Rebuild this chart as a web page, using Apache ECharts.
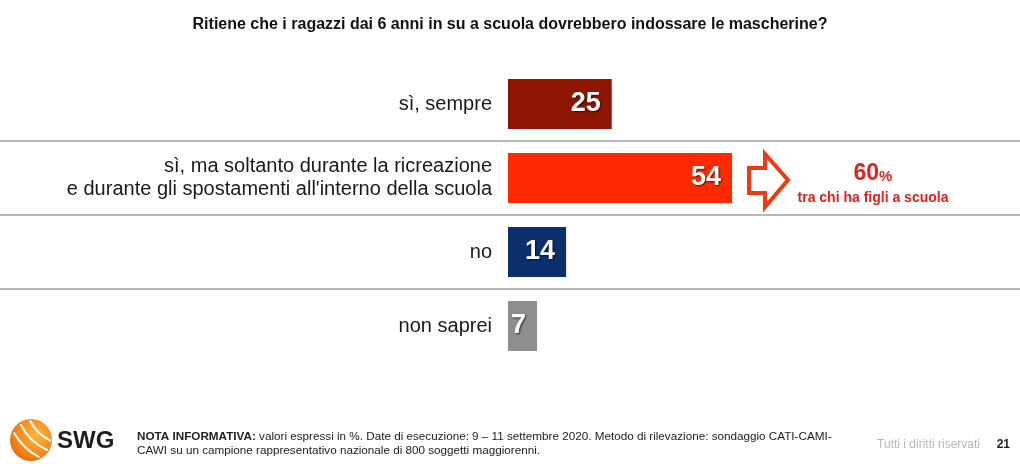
<!DOCTYPE html>
<html>
<head>
<meta charset="utf-8">
<script src="https://cdn.jsdelivr.net/npm/echarts@6/dist/echarts.min.js"></script>
<style>
  html, body { margin: 0; padding: 0; background: #ffffff; }
  #chart { width: 1020px; height: 467px; }
</style>
</head>
<body>
<div id="chart"></div>
<script>
// ---- data ----
const titleText = 'Ritiene che i ragazzi dai 6 anni in su a scuola dovrebbero indossare le mascherine?';
const categories = [
  'sì, sempre',
  "sì, ma soltanto durante la ricreazione\ne durante gli spostamenti all'interno della scuola",
  'no',
  'non saprei'
];
const values = [25, 54, 14, 7];
const subgroupValue = 60;
const subgroupLabel = 'tra chi ha figli a scuola';
const noteBold = 'NOTA INFORMATIVA:';
const noteLine1 = ' valori espressi in %. Date di esecuzione: 9 – 11 settembre 2020. Metodo di rilevazione: sondaggio CATI-CAMI-';
const noteLine2 = 'CAWI su un campione rappresentativo nazionale di 800 soggetti maggiorenni.';
const rightsText = 'Tutti i diritti riservati';
const pageNumber = '21';
const brandText = 'SWG';

// ---- styles ----
const barColors = ['#8e1502', '#ff2a00', '#0d2f6c', '#8e8e8e'];
const FONT = '"Liberation Sans", Arial, Helvetica, sans-serif';
const RED = '#e3211b';

const chart = echarts.init(document.getElementById('chart'), null, { renderer: 'canvas' });

const option = {
  backgroundColor: '#ffffff',
  animation: false,
  title: {
    text: titleText,
    left: 'center',
    top: 12,
    textStyle: { fontFamily: FONT, fontSize: 16, fontWeight: 'bold', color: '#111111' }
  },
  grid: [
    { left: 508, right: 0, top: 67, height: 296, outerBoundsMode: 'none', containLabel: false },
    { left: 0, right: 0, top: 67, height: 296, outerBoundsMode: 'none', containLabel: false }
  ],
  xAxis: [
    { gridIndex: 0, type: 'value', min: 0, max: 123.4, show: false },
    { gridIndex: 1, type: 'value', min: 0, max: 100, show: false }
  ],
  yAxis: [
    {
      gridIndex: 0,
      type: 'category',
      data: categories,
      inverse: true,
      axisLine: { show: false },
      axisTick: { show: false },
      axisLabel: {
        margin: 16,
        fontFamily: FONT,
        fontSize: 20,
        color: '#1a1a1a',
        lineHeight: 23,
        align: 'right'
      },
      splitLine: { show: false }
    },
    {
      gridIndex: 1,
      type: 'category',
      data: categories,
      inverse: true,
      axisLine: { show: false },
      axisTick: { show: false },
      axisLabel: { show: false },
      splitLine: {
        show: true,
        showMinLine: false,
        showMaxLine: false,
        lineStyle: { color: '#b8b8b8', width: 2 }
      }
    }
  ],
  series: [{
    type: 'bar',
    xAxisIndex: 0,
    yAxisIndex: 0,
    barWidth: 50,
    data: values.map((v, i) => ({ value: v, itemStyle: { color: barColors[i] } })),
    label: {
      show: true,
      position: 'insideRight',
      distance: 11,
      fontFamily: FONT,
      fontSize: 27,
      fontWeight: 'bold',
      color: '#ffffff',
      textShadowColor: 'rgba(0,0,0,0.65)',
      textShadowBlur: 2,
      textShadowOffsetX: 1,
      textShadowOffsetY: 1
    }
  }],
  graphic: [
    // annotation arrow (outlined)
    {
      type: 'polygon',
      shape: { points: [[749, 168], [765, 168], [765, 154], [788, 180], [765, 207], [765, 193], [749, 193]] },
      style: { fill: '#ffffff', stroke: '#ee3a12', lineWidth: 4, lineJoin: 'miter' }
    },
    {
      type: 'text',
      x: 873, y: 174,
      style: {
        text: '{big|' + subgroupValue + '}{pct|%}',
        align: 'center', verticalAlign: 'middle',
        rich: {
          big: { fontFamily: FONT, fontSize: 23, fontWeight: 'bold', fill: RED, color: RED },
          pct: { fontFamily: FONT, fontSize: 15, fontWeight: 'bold', fill: RED, color: RED, padding: [6, 0, 0, 0] }
        }
      }
    },
    {
      type: 'text',
      x: 873, y: 198,
      style: {
        text: subgroupLabel,
        align: 'center', verticalAlign: 'middle',
        font: 'bold 14px ' + FONT,
        fill: RED
      }
    },
    // logo
    {
      type: 'circle',
      shape: { cx: 31, cy: 440, r: 21 },
      style: {
        fill: {
          type: 'radial', x: 0.62, y: 0.38, r: 0.75,
          colorStops: [
            { offset: 0, color: '#ffb43c' },
            { offset: 0.6, color: '#f68a1c' },
            { offset: 1, color: '#e4620c' }
          ]
        }
      }
    },
    {
      type: 'arc',
      shape: { cx: 70, cy: 400, r: 45, startAngle: (134 - 19) * Math.PI / 180, endAngle: (134 + 19) * Math.PI / 180 },
      style: { stroke: '#ffffff', lineWidth: 2, fill: 'none' }
    },
    {
      type: 'arc',
      shape: { cx: 70, cy: 400, r: 55, startAngle: (134 - 20) * Math.PI / 180, endAngle: (134 + 20) * Math.PI / 180 },
      style: { stroke: '#ffffff', lineWidth: 2, fill: 'none' }
    },
    {
      type: 'arc',
      shape: { cx: 70, cy: 400, r: 65, startAngle: (134 - 16) * Math.PI / 180, endAngle: (134 + 16) * Math.PI / 180 },
      style: { stroke: '#ffffff', lineWidth: 2, fill: 'none' }
    },
    {
      type: 'text',
      x: 57, y: 441,
      style: { text: brandText, font: 'bold 24px ' + FONT, fill: '#1e1e1e', verticalAlign: 'middle' }
    },
    // footer note
    {
      type: 'text',
      x: 137, y: 437,
      style: {
        text: '{b|' + noteBold + '}{n|' + noteLine1 + '}',
        verticalAlign: 'middle',
        rich: {
          b: { fontFamily: FONT, fontSize: 11.7, fontWeight: 'bold', fill: '#222222', color: '#222222' },
          n: { fontFamily: FONT, fontSize: 11.7, fill: '#222222', color: '#222222' }
        }
      }
    },
    {
      type: 'text',
      x: 137, y: 451,
      style: { text: noteLine2, verticalAlign: 'middle', font: '11.7px ' + FONT, fill: '#222222' }
    },
    {
      type: 'text',
      x: 980, y: 445,
      style: { text: rightsText, align: 'right', verticalAlign: 'middle', font: '12px ' + FONT, fill: '#b8b8b8' }
    },
    {
      type: 'text',
      x: 1010, y: 445,
      style: { text: pageNumber, align: 'right', verticalAlign: 'middle', font: 'bold 12px ' + FONT, fill: '#222222' }
    }
  ]
};

chart.setOption(option);
</script>
</body>
</html>
